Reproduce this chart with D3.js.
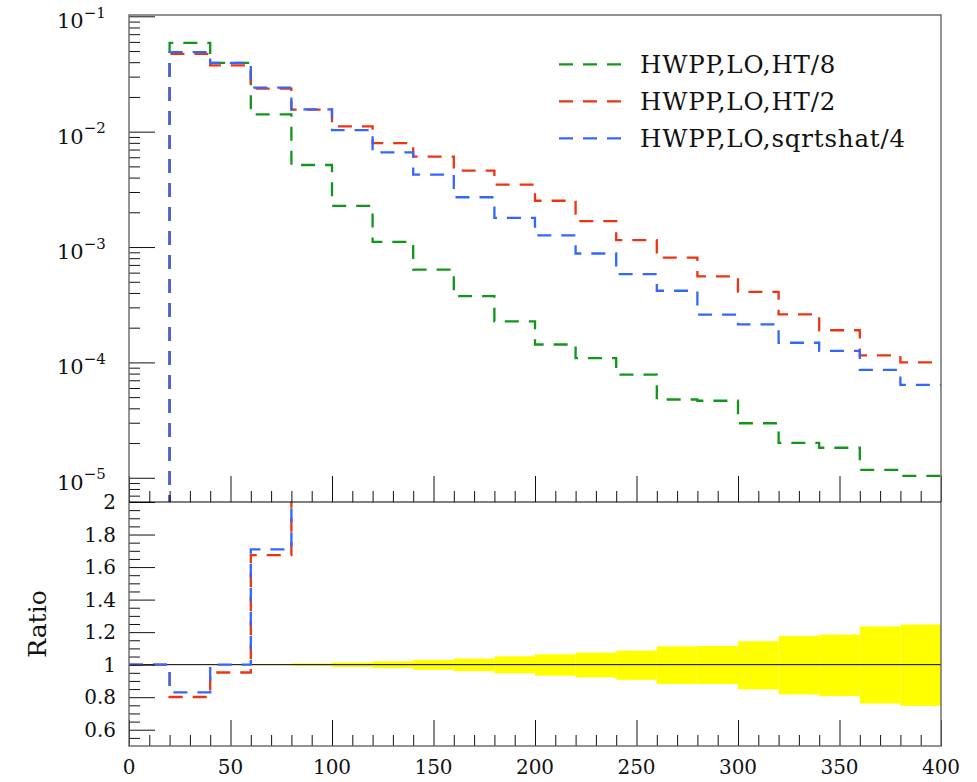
<!DOCTYPE html>
<html>
<head>
<meta charset="utf-8">
<script src="https://cdn.jsdelivr.net/npm/d3@7"></script>
<style>
    body { margin: 0; background: #fff; }
    svg text { font-family: "DejaVu Serif", serif; fill: #111; }
</style>
</head>
<body>
<div id="chart"></div>
<script>
// bins of 20 from 0 to 400
var binEdges = d3.range(0, 401, 20);

var seriesNames = ["HWPP,LO,HT/8", "HWPP,LO,HT/2", "HWPP,LO,sqrtshat/4"];
var seriesColors = ["#109618", "#EE3311", "#3366FF"];

// upper panel values, one per bin
var valuesHT8 = [0, 0.0589, 0.0394, 0.0141, 0.00514, 0.00227, 0.00111, 0.000638, 0.000376, 0.000227,
    0.000143, 0.000109, 7.83e-5, 4.77e-5, 4.65e-5, 2.97e-5, 2.01e-5, 1.82e-5, 1.17e-5, 1.04e-5];
var valuesHT2 = [0, 0.0472, 0.0375, 0.0236, 0.0155, 0.0111, 0.00796, 0.00607, 0.00459, 0.00347,
    0.00252, 0.00168, 0.00115, 0.000811, 0.000556, 0.000408, 0.000261, 0.000190, 0.000115, 0.000100];
var valuesSqrtShat = [0, 0.0489, 0.0394, 0.0241, 0.0156, 0.0103, 0.00662, 0.00424, 0.00270, 0.00179,
    0.00126, 0.000879, 0.000582, 0.000418, 0.000259, 0.000214, 0.000148, 0.000126, 8.61e-5, 6.38e-5];

// relative uncertainty of the reference (HT/8), up and down
var bandUp = [0, 0, 0, 0.003, 0.007, 0.013, 0.02, 0.029, 0.037, 0.051,
    0.064, 0.074, 0.086, 0.113, 0.115, 0.144, 0.177, 0.185, 0.235, 0.247];
var bandDown = [0, 0, 0, 0.003, 0.007, 0.014, 0.021, 0.031, 0.040, 0.053,
    0.068, 0.078, 0.093, 0.119, 0.119, 0.152, 0.183, 0.193, 0.239, 0.253];

var xTickValues = [0, 50, 100, 150, 200, 250, 300, 350, 400];
var ratioTickValues = [0.6, 0.8, 1, 1.2, 1.4, 1.6, 1.8, 2];
var logTickExponents = [-1, -2, -3, -4, -5];

var allSeries = [valuesHT8, valuesHT2, valuesSqrtShat];

// layout
var width = 977, height = 782;
var plotLeft = 129, plotRight = 941;
var plotTop = 15, plotMid = 502, plotBottom = 746;
var majorLen = 26, minorLen = 11;
var dashes = "14,10";

var svg = d3.select("#chart").append("svg")
    .attr("width", width)
    .attr("height", height);

var x = d3.scaleLinear().domain([0, 400]).range([plotLeft, plotRight]);
var y = d3.scaleLog().domain([Math.pow(10, -5.21), Math.pow(10, -0.9887)]).range([plotMid, plotTop]);
var yr = d3.scaleLinear().domain([0.5, 2]).range([plotBottom, plotMid]);

var defs = svg.append("defs");
defs.append("clipPath").attr("id", "clip-top").append("rect")
    .attr("x", plotLeft).attr("y", plotTop)
    .attr("width", plotRight - plotLeft).attr("height", plotMid - plotTop);
defs.append("clipPath").attr("id", "clip-ratio").append("rect")
    .attr("x", plotLeft).attr("y", plotMid)
    .attr("width", plotRight - plotLeft).attr("height", plotBottom - plotMid);

// turn bin values into a step outline
function stepPoints(vals) {
    var pts = [];
    vals.forEach(function (v, i) {
        pts.push([binEdges[i], v]);
        pts.push([binEdges[i + 1], v]);
    });
    return pts;
}

/* upper panel */
var upper = svg.append("g").attr("clip-path", "url(#clip-top)");
var lineTop = d3.line()
    .x(function (d) { return x(d[0]); })
    .y(function (d) { return y(Math.max(d[1], 1e-7)); });

allSeries.forEach(function (vals, i) {
    upper.append("path")
        .attr("d", lineTop(stepPoints(vals)))
        .attr("fill", "none")
        .attr("stroke", seriesColors[i])
        .attr("stroke-width", 2.3)
        .attr("stroke-dasharray", dashes);
});

/* ratio panel */
var ratio = svg.append("g").attr("clip-path", "url(#clip-ratio)");

ratio.selectAll("rect.band")
    .data(bandUp)
    .enter().append("rect")
    .attr("class", "band")
    .attr("x", function (d, i) { return x(binEdges[i]); })
    .attr("width", function (d, i) { return x(binEdges[i + 1]) - x(binEdges[i]); })
    .attr("y", function (d) { return yr(1 + d); })
    .attr("height", function (d, i) { return yr(1 - bandDown[i]) - yr(1 + d); })
    .attr("fill", "#ffff00");

ratio.append("line")
    .attr("x1", plotLeft).attr("x2", plotRight)
    .attr("y1", yr(1)).attr("y2", yr(1))
    .attr("stroke", "#000").attr("stroke-width", 1);

var lineRatio = d3.line()
    .x(function (d) { return x(d[0]); })
    .y(function (d) { return yr(Math.min(d[1], 4)); });

[1, 2].forEach(function (k) {
    var r = allSeries[k].map(function (v, i) {
        return valuesHT8[i] > 0 ? v / valuesHT8[i] : 1;
    });
    ratio.append("path")
        .attr("d", lineRatio(stepPoints(r)))
        .attr("fill", "none")
        .attr("stroke", seriesColors[k])
        .attr("stroke-width", 2.3)
        .attr("stroke-dasharray", dashes);
});

/* axes: ticks drawn inward, labels added by hand */
function styleAxis(g) {
    g.select(".domain").remove();
    g.selectAll(".tick line").attr("stroke", "#111").attr("stroke-width", 1);
    g.selectAll(".tick text").remove();
}

var minorLog = [];
[-6, -5, -4, -3, -2].forEach(function (e) {
    d3.range(2, 10).forEach(function (m) {
        var v = m * Math.pow(10, e);
        if (v > y.domain()[0] && v < y.domain()[1]) minorLog.push(v);
    });
});
svg.append("g").attr("transform", "translate(" + plotLeft + ",0)")
    .call(d3.axisLeft(y).tickValues(minorLog).tickSize(-minorLen)).call(styleAxis);
svg.append("g").attr("transform", "translate(" + plotLeft + ",0)")
    .call(d3.axisLeft(y).tickValues(logTickExponents.map(function (e) { return Math.pow(10, e); })).tickSize(-majorLen))
    .call(styleAxis);

var minorX = d3.range(0, 401, 10).filter(function (v) { return v % 50 !== 0; });
[plotMid, plotBottom].forEach(function (yy) {
    svg.append("g").attr("transform", "translate(0," + yy + ")")
        .call(d3.axisBottom(x).tickValues(minorX).tickSize(-minorLen)).call(styleAxis);
    svg.append("g").attr("transform", "translate(0," + yy + ")")
        .call(d3.axisBottom(x).tickValues(xTickValues).tickSize(-majorLen)).call(styleAxis);
});

var minorRatio = d3.range(0.55, 2.0, 0.05).filter(function (v) {
    return Math.abs(v * 5 - Math.round(v * 5)) > 1e-6;
});
svg.append("g").attr("transform", "translate(" + plotLeft + ",0)")
    .call(d3.axisLeft(yr).tickValues(minorRatio).tickSize(-minorLen)).call(styleAxis);
svg.append("g").attr("transform", "translate(" + plotLeft + ",0)")
    .call(d3.axisLeft(yr).tickValues(ratioTickValues).tickSize(-majorLen)).call(styleAxis);

// log labels 10^n
logTickExponents.forEach(function (e) {
    var t = svg.append("text")
        .attr("x", 57)
        .attr("y", y(Math.pow(10, e)) + 12)
        .style("font-size", "21px");
    t.append("tspan").text("10");
    t.append("tspan")
        .attr("dy", -10.5)
        .style("font-size", "15px")
        .text("\u2212" + Math.abs(e));
});

svg.selectAll("text.rlab")
    .data(ratioTickValues)
    .enter().append("text")
    .attr("class", "rlab")
    .attr("x", 116)
    .attr("y", function (d) { return yr(d) + 7; })
    .attr("text-anchor", "end")
    .style("font-size", "20px")
    .text(function (d) { return String(d); });

svg.selectAll("text.xlab")
    .data(xTickValues)
    .enter().append("text")
    .attr("class", "xlab")
    .attr("x", function (d) { return x(d); })
    .attr("y", 774)
    .attr("text-anchor", "middle")
    .style("font-size", "20px")
    .text(function (d) { return d; });

svg.append("text")
    .attr("transform", "translate(46," + ((plotMid + plotBottom) / 2) + ") rotate(-90)")
    .attr("text-anchor", "middle")
    .style("font-size", "25px")
    .text("Ratio");

/* frames */
svg.append("rect")
    .attr("x", plotLeft).attr("y", plotTop)
    .attr("width", plotRight - plotLeft).attr("height", plotBottom - plotTop)
    .attr("fill", "none").attr("stroke", "#666").attr("stroke-width", 1.4);
svg.append("line")
    .attr("x1", plotLeft).attr("x2", plotRight)
    .attr("y1", plotMid).attr("y2", plotMid)
    .attr("stroke", "#000").attr("stroke-width", 1.2);

/* legend */
var legend = svg.append("g");
seriesNames.forEach(function (name, i) {
    var ly = 64.3 + i * 37;
    legend.append("line")
        .attr("x1", 559).attr("x2", 623)
        .attr("y1", ly).attr("y2", ly)
        .attr("stroke", seriesColors[i])
        .attr("stroke-width", 2.3)
        .attr("stroke-dasharray", dashes);
    legend.append("text")
        .attr("x", 640)
        .attr("y", ly + 8.5)
        .style("font-size", "24.5px")
        .style("letter-spacing", "0.8px")
        .text(name);
});
</script>
</body>
</html>
